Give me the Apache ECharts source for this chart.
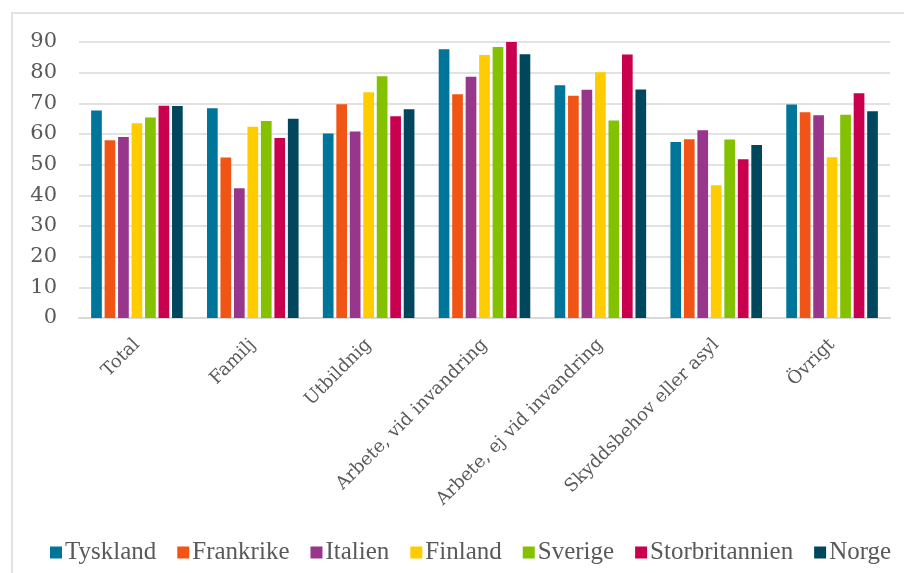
<!DOCTYPE html>
<html>
<head>
<meta charset="utf-8">
<script src="https://cdn.jsdelivr.net/npm/echarts@6/dist/echarts.min.js"></script>
<style>
  html, body { margin: 0; padding: 0; background: #fff; }
  #chart { width: 904px; height: 573px; }
</style>
</head>
<body>
<div id="chart"></div>
<script>
const categories = ['Total', 'Familj', 'Utbildnig', 'Arbete, vid invandring', 'Arbete, ej vid invandring', 'Skyddsbehov eller asyl', 'Övrigt']
const countries = ['Tyskland', 'Frankrike', 'Italien', 'Finland', 'Sverige', 'Storbritannien', 'Norge']
const colors = ['#00759A', '#F05516', '#97368B', '#FFCC00', '#84C100', '#C8004D', '#00475D']

const tyskland = [67.7, 68.4, 60.2, 87.6, 75.9, 57.4, 69.6]
const frankrike = [58.0, 52.3, 69.7, 73.0, 72.5, 58.3, 67.1]
const italien = [59.0, 42.3, 60.8, 78.7, 74.4, 61.2, 66.1]
const finland = [63.5, 62.4, 73.6, 85.8, 80.1, 43.3, 52.4]
const sverige = [65.4, 64.2, 78.8, 88.4, 64.4, 58.2, 66.3]
const storbritannien = [69.2, 58.7, 65.8, 90.0, 85.9, 51.8, 73.3]
const norge = [69.1, 65.0, 68.1, 86.0, 74.5, 56.4, 67.4]

const seriesData = [tyskland, frankrike, italien, finland, sverige, storbritannien, norge]

const chart = echarts.init(document.getElementById('chart'))
const option = {
  animation: false,
  color: colors,
  graphic: [
    {
      type: 'rect',
      shape: { x: 12, y: 13, width: 950, height: 620 },
      style: { fill: 'none', stroke: '#d9d9d9', lineWidth: 1.5 },
      silent: true
    }
  ],
  grid: {
    left: 79,
    right: 14,
    top: 42,
    bottom: 255
  },
  legend: {
    bottom: 3,
    left: 45,
    itemWidth: 12,
    itemHeight: 12,
    itemGap: 21,
    icon: 'rect',
    textStyle: {
      fontFamily: 'Liberation Serif',
      fontSize: 25,
      color: '#595959',
      padding: [0, 0, 0, -2]
    },
    data: countries
  },
  xAxis: {
    type: 'category',
    data: categories,
    axisLine: { lineStyle: { color: '#d9d9d9', width: 2 } },
    axisTick: { show: false },
    axisLabel: {
      rotate: 45,
      margin: 24,
      interval: 0,
      fontFamily: 'DejaVu Serif',
      fontSize: 18,
      color: '#595959'
    }
  },
  yAxis: {
    type: 'value',
    min: 0,
    max: 90,
    interval: 10,
    axisLine: { show: false },
    axisTick: { show: false },
    splitLine: { lineStyle: { color: '#d9d9d9', width: 1.5 } },
    axisLabel: {
      margin: 22,
      fontFamily: 'DejaVu Serif',
      fontSize: 21,
      color: '#595959'
    }
  },
  series: countries.map((name, i) => ({
    name: name,
    type: 'bar',
    data: seriesData[i],
    barWidth: 10.7,
    barGap: '26%',
    itemStyle: { color: colors[i] }
  }))
}
chart.setOption(option)
</script>
</body>
</html>
